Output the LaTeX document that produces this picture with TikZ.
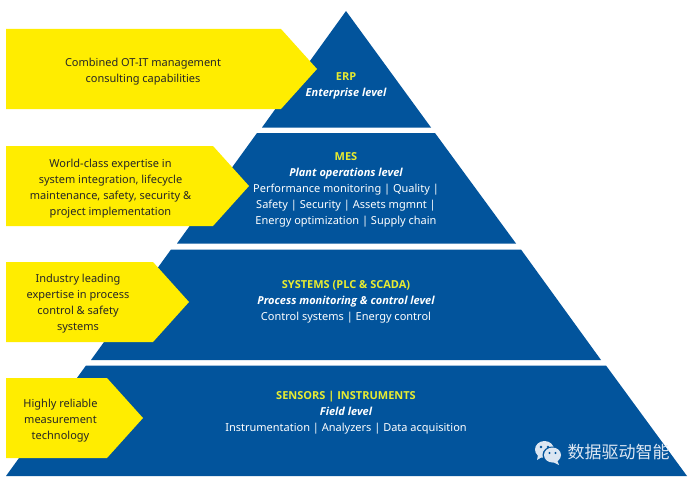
\documentclass[tikz,border=0pt]{standalone}
\usepackage{fontspec}
\setmainfont{Noto Sans}
\newfontfamily\opn{Open Sans}
\newfontfamily\cjk{Noto Sans CJK SC}
\definecolor{pblue}{HTML}{02549C}
\definecolor{pyellow}{HTML}{FFED00}
\definecolor{ptitle}{HTML}{E8EC30}
\definecolor{wmark}{HTML}{DCE6F2}
\tikzset{
  tier/.style={fill=pblue,draw=none},
  flag/.style={fill=pyellow,draw=none},
  flagtext/.style={align=center,text=black!85,font=\fontsize{11}{16}\selectfont,inner sep=0pt},
  tiertext/.style={align=center,text=white,font=\fontsize{11}{16}\selectfont,inner sep=0pt},
  wm/.style={fill=wmark,draw=none}
}
\newcommand{\ttl}[1]{\textcolor{ptitle}{\opn\bfseries #1}}
\newcommand{\lvl}[1]{{\opn\bfseries\itshape #1}}
\begin{document}
\begin{tikzpicture}[x=1pt,y=-1pt]
\useasboundingbox (0,0) rectangle (692,484);
\fill[white] (0,0) rectangle (692,484);
% pyramid tiers
\fill[tier] (346,11) -- (431,127.5) -- (262,127.5) -- cycle;
\fill[tier] (257,133) -- (435,133) -- (516,243.5) -- (177,243.5) -- cycle;
\fill[tier] (171,249.5) -- (521,249.5) -- (601,360) -- (91,360) -- cycle;
\fill[tier] (86,365.5) -- (606,365.5) -- (687,476) -- (6,476) -- cycle;
% yellow flags
\fill[flag] (6,29) -- (281,29) -- (317,69) -- (281,109) -- (6,109) -- cycle;
\fill[flag] (6,146) -- (213,146) -- (249,186) -- (213,226) -- (6,226) -- cycle;
\fill[flag] (6,262) -- (153,262) -- (189,302) -- (153,342) -- (6,342) -- cycle;
\fill[flag] (6,378) -- (107,378) -- (143,418) -- (107,458) -- (6,458) -- cycle;
% flag text
\node[flagtext] (f1) at (143,72) {Combined OT-IT management\\consulting capabilities};
\node[flagtext] (f2) at (110.5,188.5) {World-class expertise in\\system integration, lifecycle\\maintenance, safety, security \&\\project implementation};
\node[flagtext] (f3) at (78,304) {Industry leading\\expertise in process\\control \& safety\\systems};
\node[flagtext] (f4) at (60.5,420.5) {Highly reliable\\measurement\\technology};
% tier text
\node[tiertext] (t1) at (346,86) {\ttl{ERP}\\\lvl{Enterprise level}};
\node[tiertext] (t2) at (346,189.5) {\ttl{MES}\\\lvl{Plant operations level}\\Performance monitoring | Quality |\\Safety | Security | Assets mgmnt |\\Energy optimization | Supply chain};
\node[tiertext] (t3) at (346,301.5) {\ttl{SYSTEMS (PLC \& SCADA)}\\\lvl{Process monitoring \& control level}\\Control systems | Energy control};
\node[tiertext] (t4) at (346,413) {\ttl{SENSORS | INSTRUMENTS}\\\lvl{Field level}\\Instrumentation | Analyzers | Data acquisition};
% watermark
\fill[wm] (544.5,449.5) ellipse [x radius=9.5,y radius=8.5];
\fill[wm] (538,455) -- (537,460) -- (542,457) -- cycle;
\fill[pblue] (552,455) ellipse [x radius=9.5,y radius=8.5];
\fill[wm] (552.5,455) ellipse [x radius=8.5,y radius=7.5];
\fill[wm] (557,460) -- (559,465) -- (553,462) -- cycle;
\fill[pblue] (541,447) circle (1.3) (548,447) circle (1.3) (549.5,453) circle (1.1) (555.5,453) circle (1.1);
\node[inner sep=0pt,text=wmark,font=\cjk\fontsize{17}{17}\selectfont] (wm) at (618.5,452.5) {数据驱动智能};
\end{tikzpicture}
\end{document}
